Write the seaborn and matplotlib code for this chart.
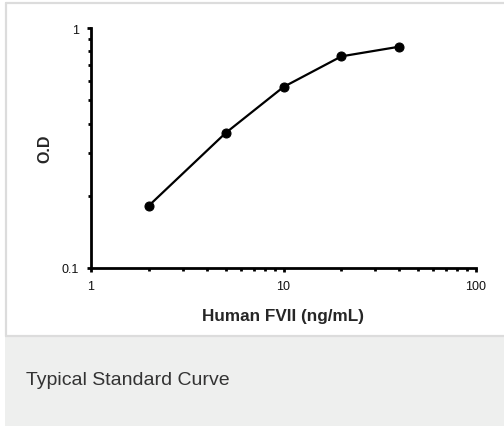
import matplotlib
matplotlib.use("Agg")
import matplotlib.pyplot as plt
import seaborn as sns
import pandas as pd
from matplotlib.patches import Rectangle
from matplotlib.lines import Line2D
from matplotlib.ticker import LogLocator, NullFormatter, FixedLocator, FixedFormatter

# values
conc = [2, 5, 10, 20, 40]
od = [0.182, 0.365, 0.568, 0.762, 0.836]
x_ticks = [1, 10, 100]
x_labels = ["1", "10", "100"]
y_ticks = [0.1, 1]
y_labels = ["0.1", "1"]
caption = "Typical Standard Curve"

sns.set_style("ticks")
plt.rcParams["font.family"] = ["Liberation Sans", "DejaVu Sans"]

df = pd.DataFrame({"conc": conc, "od": od})

W, H = 504, 427
fig = plt.figure(figsize=(W / 100, H / 100), dpi=100)
fig.patch.set_facecolor("white")

# footer panel and light border like the web card
fig.patches.append(Rectangle((5 / W, 0), 1 - 5 / W, (H - 337) / H,
                             transform=fig.transFigure, facecolor="#eeefee",
                             edgecolor="none", zorder=0))
border = "#dcdcdc"
fig.lines.append(Line2D([5.5 / W, 1], [1 - 3.5 / H, 1 - 3.5 / H],
                        transform=fig.transFigure, color=border, lw=1.6))
fig.lines.append(Line2D([5.5 / W, 5.5 / W], [(H - 337) / H, 1 - 3.5 / H],
                        transform=fig.transFigure, color=border, lw=1.6))
fig.lines.append(Line2D([5.5 / W, 1], [(H - 336.5) / H, (H - 336.5) / H],
                        transform=fig.transFigure, color=border, lw=1.6))

ax = fig.add_axes([91 / W, (H - 269) / H, (476 - 91) / W, (269 - 29) / H])
ax.set_facecolor("none")

sns.lineplot(data=df, x="conc", y="od", ax=ax, color="black", lw=1.6,
             marker="o", markersize=6.5, markeredgecolor="black",
             markerfacecolor="black")

ax.set_xscale("log")
ax.set_yscale("log")
ax.set_xlim(1, 100)
ax.set_ylim(0.1, 1)

ax.xaxis.set_major_locator(FixedLocator(x_ticks))
ax.xaxis.set_major_formatter(FixedFormatter(x_labels))
ax.yaxis.set_major_locator(FixedLocator(y_ticks))
ax.yaxis.set_major_formatter(FixedFormatter(y_labels))
ax.xaxis.set_minor_locator(LogLocator(base=10, subs=range(2, 10)))
ax.yaxis.set_minor_locator(LogLocator(base=10, subs=range(2, 10)))
ax.xaxis.set_minor_formatter(NullFormatter())
ax.yaxis.set_minor_formatter(NullFormatter())

for side in ["top", "right"]:
    ax.spines[side].set_visible(False)
for side in ["left", "bottom"]:
    ax.spines[side].set_linewidth(2.0)
    ax.spines[side].set_color("black")

ax.tick_params(which="both", direction="out", width=2.0, color="black",
               labelsize=9, labelcolor="#111111")
ax.tick_params(axis="y", which="major", length=3, pad=5.5)
ax.tick_params(axis="x", which="major", length=3, pad=5.5)
ax.tick_params(which="minor", length=2.5)

ax.set_xlabel("Human FVII (ng/mL)", fontsize=12.3, fontweight="bold", labelpad=12)
ax.set_ylabel("O.D", fontsize=11.5, fontweight="bold", labelpad=6.5)

fig.text(26 / W, 1 - 381 / H, caption, fontsize=14, color="#333333",
         ha="left", va="center")

fig.savefig("out.png", dpi=100)
